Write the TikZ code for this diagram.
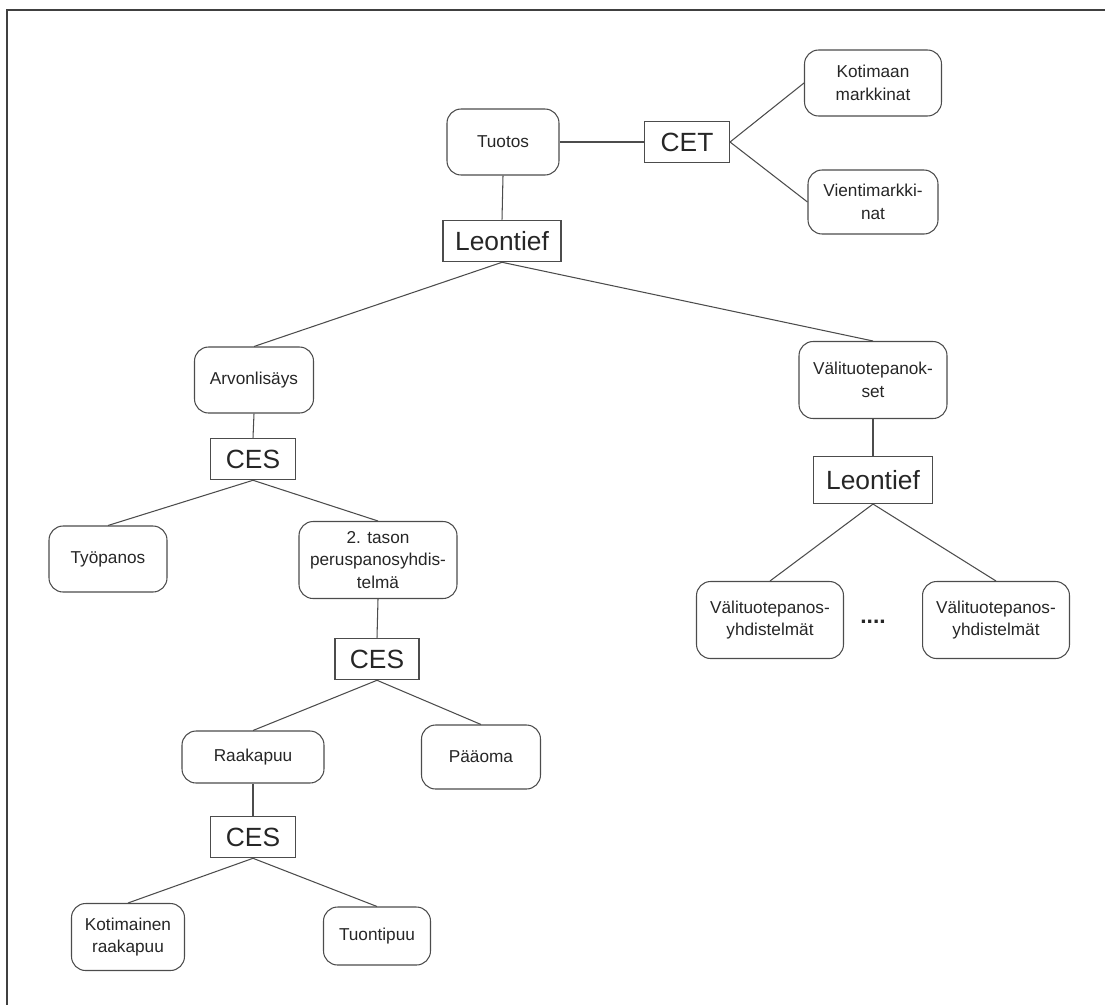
\documentclass[tikz,border=0pt]{standalone}
\usepackage{fontspec}
\setmainfont{Liberation Sans}
\usepackage{tikz}
\usetikzlibrary{positioning}

\tikzset{
    pbox/.style={draw=black!70, line width=0.6pt, rounded corners=8pt, align=center,
        text=black!85, font=\fontsize{9.8}{13}\selectfont, inner sep=1pt},
    fbox/.style={draw=black!70, line width=0.6pt, text=black!85,
        font=\fontsize{15}{15}\selectfont, minimum height=0.83cm, inner sep=1pt},
    link/.style={draw=black!70, line width=0.6pt}
}

\begin{document}
\begin{tikzpicture}[x=0.02cm, y=-0.02cm]
        \useasboundingbox (0,0) rectangle (1105,1005);
        % Frame
        \draw[black!75, line width=1.7pt] (1105,10) -- (7,10) -- (7,1005);
        % Top level
        \node[pbox, minimum width=2.24cm, minimum height=1.32cm] (tuotos) at (503,142) {Tuotos};
        \node[fbox, minimum width=1.7cm] (cet) at (687,142) {CET};
        \node[pbox, minimum width=2.74cm, minimum height=1.32cm] (kotimaan) at (873,83) {Kotimaan\\markkinat};
        \node[pbox, minimum width=2.6cm, minimum height=1.28cm] (vienti) at (873,202) {Vientimarkki-\\nat};
        \node[fbox, minimum width=2.36cm] (leon) at (502,241) {Leontief};
        % Left branch
        \node[pbox, minimum width=2.38cm, minimum height=1.32cm] (arvo) at (254,380) {Arvonlisäys};
        \node[fbox, minimum width=1.7cm] (cesA) at (253,459) {CES};
        \node[pbox, minimum width=2.36cm, minimum height=1.32cm] (tyo) at (108,559) {Työpanos};
        \node[pbox, minimum width=3.16cm, minimum height=1.54cm] (tason) at (378,560) {2. tason\\peruspanosyhdis-\\telmä};
        \node[fbox, minimum width=1.68cm] (cesB) at (377,659) {CES};
        \node[pbox, minimum width=2.84cm, minimum height=1.04cm] (raaka) at (253,757) {Raakapuu};
        \node[pbox, minimum width=2.38cm, minimum height=1.28cm] (paaoma) at (481,757) {Pääoma};
        \node[fbox, minimum width=1.7cm] (cesC) at (253,837) {CES};
        \node[pbox, minimum width=2.26cm, minimum height=1.34cm] (kotim) at (128,937) {Kotimainen\\raakapuu};
        \node[pbox, minimum width=2.14cm, minimum height=1.16cm] (tuonti) at (377,936) {Tuontipuu};
        % Right branch
        \node[pbox, minimum width=2.96cm, minimum height=1.54cm] (vali) at (873,380) {Välituotepanok-\\set};
        \node[fbox, minimum width=2.38cm, minimum height=0.94cm] (leonB) at (873,480) {Leontief};
        \node[pbox, minimum width=2.94cm, minimum height=1.54cm] (yhdA) at (770,620) {Välituotepanos-\\yhdistelmät};
        \node[pbox, minimum width=2.94cm, minimum height=1.54cm] (yhdB) at (996,620) {Välituotepanos-\\yhdistelmät};
        \node[text=black!85, font=\bfseries\fontsize{13}{13}\selectfont] (dots) at (873,622) {....};
        % Connectors
        \draw[link] (tuotos.east) -- (cet.west);
        \draw[link] (cet.east) -- (kotimaan.west);
        \draw[link] (cet.east) -- (vienti.west);
        \draw[link] (tuotos.south) -- (leon.north);
        \draw[link] (leon.south) -- (arvo.north);
        \draw[link] (leon.south) -- (vali.north);
        \draw[link] (arvo.south) -- (cesA.north);
        \draw[link] (cesA.south) -- (tyo.north);
        \draw[link] (cesA.south) -- (tason.north);
        \draw[link] (tason.south) -- (cesB.north);
        \draw[link] (cesB.south) -- (raaka.north);
        \draw[link] (cesB.south) -- (paaoma.north);
        \draw[link] (raaka.south) -- (cesC.north);
        \draw[link] (cesC.south) -- (kotim.north);
        \draw[link] (cesC.south) -- (tuonti.north);
        \draw[link] (vali.south) -- (leonB.north);
        \draw[link] (leonB.south) -- (yhdA.north);
        \draw[link] (leonB.south) -- (yhdB.north);
    \end{tikzpicture}
\end{document}
